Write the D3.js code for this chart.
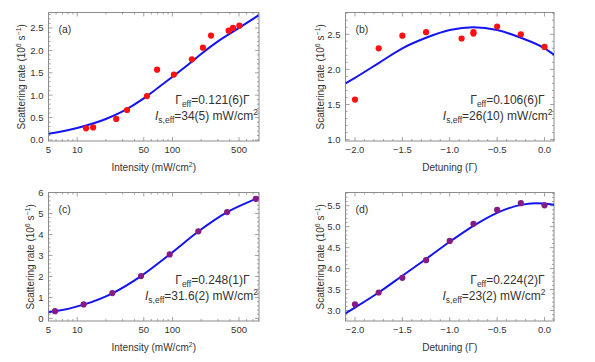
<!DOCTYPE html>
<html><head><meta charset="utf-8">
<script src="https://cdn.jsdelivr.net/npm/d3@7"></script>
<style>
body{margin:0;background:#fff}
svg{display:block}
text{font-family:"Liberation Sans",Arial,sans-serif;fill:#333}
</style>
</head><body>
<svg id="chart" width="595" height="362"></svg>
<script>
// ---------------- data ----------------
// (a) intensity scan
const intensityA = [12.4, 14.7, 25.7, 33.4, 54, 69, 103.5, 160, 209, 254, 389, 432, 504];
const rateA      = [0.26, 0.28, 0.47, 0.67, 0.98, 1.57, 1.46, 1.80, 2.06, 2.33, 2.44, 2.50, 2.55];
const fitIntensityA = [5, 10, 20, 30, 50, 70, 100, 150, 200, 300, 500, 800];
const fitRateA      = [0.14, 0.27, 0.47, 0.64, 0.93, 1.16, 1.41, 1.70, 1.92, 2.20, 2.50, 2.78];
// (b) detuning scan
const detuningB = [-2.0, -1.75, -1.5, -1.25, -0.875, -0.75, -0.75, -0.5, -0.25, 0.0];
const rateB     = [1.57, 2.30, 2.48, 2.53, 2.44, 2.51, 2.53, 2.61, 2.50, 2.32];
const fitDetuningB = [-2.1, -2.0, -1.75, -1.5, -1.25, -1.0, -0.75, -0.5, -0.25, 0.0, 0.1];
const fitRateB     = [1.80, 1.88, 2.09, 2.30, 2.45, 2.56, 2.60, 2.56, 2.45, 2.30, 2.21];
// (c) intensity scan
const intensityC = [5.85, 11.7, 23.4, 46.8, 93.6, 187, 375, 750];
const rateC      = [0.35, 0.67, 1.21, 2.02, 3.05, 4.15, 5.07, 5.70];
const fitIntensityC = [5, 5.85, 11.7, 23.4, 46.8, 93.6, 187, 375, 750, 800];
const fitRateC      = [0.30, 0.34, 0.66, 1.20, 2.02, 3.05, 4.14, 5.06, 5.70, 5.76];
// (d) detuning scan
const detuningD = [-2.0, -1.75, -1.5, -1.25, -1.0, -0.75, -0.5, -0.25, 0.0];
const rateD     = [3.15, 3.43, 3.78, 4.20, 4.66, 5.07, 5.40, 5.56, 5.51];
const fitDetuningD = [-2.1, -2.0, -1.75, -1.5, -1.25, -1.0, -0.75, -0.5, -0.25, -0.1, 0.0, 0.1];
const fitRateD     = [2.93, 3.07, 3.43, 3.83, 4.23, 4.64, 5.02, 5.33, 5.52, 5.56, 5.55, 5.52];

// tick labels
const logTicks = [5, 10, 50, 100, 500];
const detTicks = [-2.0, -1.5, -1.0, -0.5, 0.0];
const yTicksA = [0, 0.5, 1.0, 1.5, 2.0, 2.5];
const yTicksB = [1.0, 1.5, 2.0, 2.5];
const yTicksC = [0, 1, 2, 3, 4, 5, 6];
const yTicksD = [3.0, 3.5, 4.0, 4.5, 5.0, 5.5];
const panelLetters = ["(a)", "(b)", "(c)", "(d)"];
const gammaTexts = ["0.121(6)", "0.106(6)", "0.248(1)", "0.224(2)"];
const isatTexts = ["34(5)", "26(10)", "31.6(2)", "23(2)"];

// ---------------- drawing ----------------
const svg = d3.select("#chart");
const FRAME = "#8c8c8c", LINE = "#1414f0";

const panels = [
  {x0:48.5, x1:259, y0:12.5, y1:141, log:true, xdom:[5,810], ydom:[-0.022,2.845],
   xs:intensityA, ys:rateA, fx:fitIntensityA, fy:fitRateA, yt:yTicksA, yfmt:d3.format(".1f"),
   ymin:0.1, col:"#ff1010", ylx:21.5, g1x:249.5, g2x:258, xlabel:"int"},
  {x0:345.5, x1:554, y0:12.5, y1:141, log:false, xdom:[-2.1,0.1], ydom:[0.98,2.81],
   xs:detuningB, ys:rateB, fx:fitDetuningB, fy:fitRateB, yt:yTicksB, yfmt:d3.format(".1f"),
   ymin:0.1, col:"#ff1010", ylx:320.5, g1x:544.5, g2x:552.5, xlabel:"det"},
  {x0:48.5, x1:259, y0:192.5, y1:321, log:true, xdom:[5,810], ydom:[-0.12,6.0],
   xs:intensityC, ys:rateC, fx:fitIntensityC, fy:fitRateC, yt:yTicksC, yfmt:d3.format("d"),
   ymin:0.2, col:"#861a86", ylx:30, g1x:249.5, g2x:258, xlabel:"int"},
  {x0:345.5, x1:554, y0:192.5, y1:321, log:false, xdom:[-2.1,0.1], ydom:[2.75,5.815],
   xs:detuningD, ys:rateD, fx:fitDetuningD, fy:fitRateD, yt:yTicksD, yfmt:d3.format(".1f"),
   ymin:0.1, col:"#861a86", ylx:320.5, g1x:544.5, g2x:545.5, xlabel:"det"}
];

function minorLog(lo, hi){
  const out=[];
  for(let e=0;e<4;e++){ for(let m=1;m<10;m++){ const v=m*Math.pow(10,e); if(v>=lo&&v<=hi) out.push(v);} }
  return out;
}
function minorLin(lo, hi, step){
  const out=[]; const s=Math.ceil(lo/step-1e-9);
  for(let k=s; k*step<=hi+1e-9; k++) out.push(+(k*step).toFixed(6));
  return out;
}

panels.forEach((p, i) => {
  const x = p.log ? d3.scaleLog().domain(p.xdom).range([p.x0,p.x1])
                  : d3.scaleLinear().domain(p.xdom).range([p.x0,p.x1]);
  const y = d3.scaleLinear().domain(p.ydom).range([p.y1,p.y0]);
  const g = svg.append("g");
  const cid = "clip"+i;
  svg.append("clipPath").attr("id",cid).append("rect")
     .attr("x",p.x0).attr("y",p.y0).attr("width",p.x1-p.x0).attr("height",p.y1-p.y0);

  // ticks (inward, all four sides)
  const xMajor = p.log ? logTicks : detTicks;
  const xMinor = p.log ? minorLog(p.xdom[0], p.xdom[1]) : minorLin(p.xdom[0], p.xdom[1], 0.1);
  const yMinor = minorLin(p.ydom[0], p.ydom[1], p.ymin);
  const tk = g.append("g").attr("stroke",FRAME).attr("stroke-width",0.8);
  const isMajX = v => xMajor.some(m=>Math.abs(m-v)<1e-6);
  const isMajY = v => p.yt.some(m=>Math.abs(m-v)<1e-6);
  xMinor.forEach(v=>{
    const L = isMajX(v)?4:2, xx=x(v);
    tk.append("line").attr("x1",xx).attr("x2",xx).attr("y1",p.y1).attr("y2",p.y1-L);
    tk.append("line").attr("x1",xx).attr("x2",xx).attr("y1",p.y0).attr("y2",p.y0+L);
  });
  xMajor.forEach(v=>{ if(!xMinor.some(m=>Math.abs(m-v)<1e-6)){ const xx=x(v);
    tk.append("line").attr("x1",xx).attr("x2",xx).attr("y1",p.y1).attr("y2",p.y1-4);
    tk.append("line").attr("x1",xx).attr("x2",xx).attr("y1",p.y0).attr("y2",p.y0+4);}});
  yMinor.forEach(v=>{
    const L = isMajY(v)?4:2, yy=y(v);
    tk.append("line").attr("y1",yy).attr("y2",yy).attr("x1",p.x0).attr("x2",p.x0+L);
    tk.append("line").attr("y1",yy).attr("y2",yy).attr("x1",p.x1).attr("x2",p.x1-L);
  });

  // frame
  g.append("rect").attr("x",p.x0).attr("y",p.y0).attr("width",p.x1-p.x0).attr("height",p.y1-p.y0)
   .attr("fill","none").attr("stroke",FRAME).attr("stroke-width",1);

  // tick labels
  xMajor.forEach(v=>{
    g.append("text").attr("x",x(v)).attr("y",p.y1+12).attr("text-anchor","middle")
     .attr("font-size",9.5).text(p.log ? String(v) : (v<0?"\u2212":"")+Math.abs(v).toFixed(1));
  });
  p.yt.forEach(v=>{
    g.append("text").attr("x",p.x0-5).attr("y",y(v)).attr("dy","0.35em").attr("text-anchor","end")
     .attr("font-size",9.5).text(p.yfmt(v));
  });

  // axis labels
  const xl = g.append("text").attr("x",(p.x0+p.x1)/2).attr("y",p.y1+30).attr("text-anchor","middle").attr("font-size",10);
  if(p.xlabel==="int"){
    xl.append("tspan").text("Intensity (mW/cm");
    xl.append("tspan").attr("font-size",7).attr("dy",-4).text("2");
    xl.append("tspan").attr("dy",4).text(")");
  } else {
    xl.text("Detuning (\u0393)");
  }
  const yl = g.append("text").attr("transform",`translate(${p.ylx},${(p.y0+p.y1)/2}) rotate(-90)`)
     .attr("text-anchor","middle").attr("dy","0.35em").attr("font-size",10);
  yl.append("tspan").text("Scattering rate (10");
  yl.append("tspan").attr("font-size",7).attr("dy",-4).text("6");
  yl.append("tspan").attr("dy",4).text(" s");
  yl.append("tspan").attr("font-size",7).attr("dy",-4).text("\u22121");
  yl.append("tspan").attr("dy",4).text(")");

  // fit curve
  const fit = p.fx.map((v,k)=>[v,p.fy[k]]);
  g.append("path").datum(fit).attr("clip-path",`url(#${cid})`)
   .attr("fill","none").attr("stroke",LINE).attr("stroke-width",2)
   .attr("d", d3.line().x(d=>x(d[0])).y(d=>y(d[1])).curve(d3.curveMonotoneX));

  // data points
  const pts = p.xs.map((v,k)=>[v,p.ys[k]]);
  g.selectAll("circle.pt").data(pts).enter().append("circle")
   .attr("cx",d=>x(d[0])).attr("cy",d=>y(d[1])).attr("r",3.1).attr("fill",p.col);

  // panel letter
  g.append("text").attr("x",p.x0+10).attr("y",p.y0+20).attr("font-size",10.5).text(panelLetters[i]);

  // annotations
  const t1 = g.append("text").attr("x",p.g1x).attr("y",p.y0+91).attr("text-anchor","end").attr("font-size",12);
  t1.append("tspan").text("\u0393");
  t1.append("tspan").attr("font-size",8.5).attr("dy",3).text("eff");
  t1.append("tspan").attr("dy",-3).text("="+gammaTexts[i]+"\u0393");
  const t2 = g.append("text").attr("x",p.g2x).attr("y",p.y0+107).attr("text-anchor","end").attr("font-size",12);
  t2.append("tspan").attr("font-style","italic").text("I");
  t2.append("tspan").attr("font-size",8.5).attr("dy",3).text("s,eff");
  t2.append("tspan").attr("dy",-3).text("="+isatTexts[i]+" mW/cm");
  t2.append("tspan").attr("font-size",8.5).attr("dy",-4.5).text("2");
});
</script>
</body></html>
